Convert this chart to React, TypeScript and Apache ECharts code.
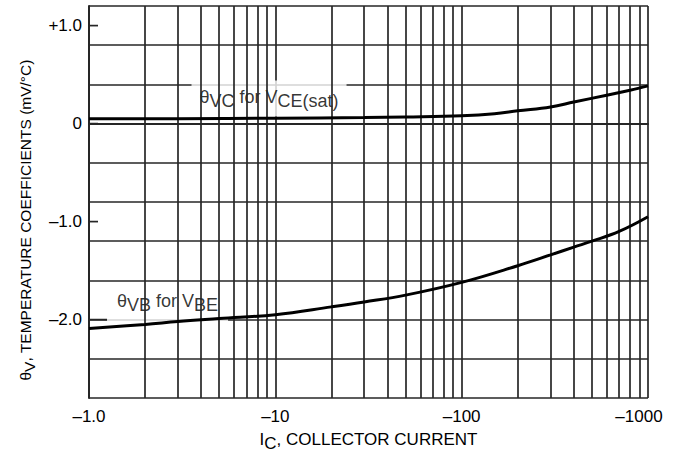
import React, { useEffect, useRef } from "react";
import * as echarts from "echarts";

// ---- data ----
const xTickValues = [1, 10, 100, 1000];
const xTickLabels = ["–1.0", "–10", "–100", "–1000"];
const xMinorGrid = [2, 3, 4, 5, 6, 7, 8, 9, 20, 30, 40, 50, 60, 70, 80, 90, 200, 300, 400, 500, 600, 700, 800, 900];
const yTickValues = [1, 0, -1, -2];
const yTickLabels = ["+1.0", "0", "–1.0", "–2.0"];

const icVC = [1, 3, 10, 30, 50, 100, 150, 200, 300, 400, 600, 800, 1000];
const thetaVC = [0.05, 0.05, 0.055, 0.062, 0.068, 0.08, 0.1, 0.13, 0.17, 0.22, 0.29, 0.34, 0.385];

const icVB = [1, 2, 3, 5, 10, 20, 30, 50, 100, 200, 300, 400, 500, 700, 1000];
const thetaVB = [-2.09, -2.05, -2.02, -1.99, -1.95, -1.87, -1.82, -1.75, -1.62, -1.45, -1.34, -1.26, -1.2, -1.1, -0.95];

const FONT = "'Liberation Sans', Arial, Helvetica, sans-serif";
const INK = "#000000";
const GRID = "#262626";

export default function App() {
  const ref = useRef<HTMLDivElement>(null);

  useEffect(() => {
    if (!ref.current) return;
    const chart = echarts.init(ref.current, undefined, { renderer: "svg" });

    const rich = (size: number, drop: number) => ({
      a: { fontFamily: FONT, fontSize: size, color: INK, verticalAlign: "top", lineHeight: size + drop },
      b: { fontFamily: FONT, fontSize: size, color: INK, verticalAlign: "bottom", lineHeight: size + drop },
    });

    const option: any = {
      animation: false,
      backgroundColor: "#ffffff",
      grid: { left: 89, right: 32, top: 6, bottom: 66, containLabel: false, outerBoundsMode: "none" },
      xAxis: {
        type: "log",
        logBase: 10,
        min: 1,
        max: 1000,
        axisLine: { show: true, lineStyle: { color: GRID, width: 2 } },
        axisTick: { show: false },
        splitLine: { show: true, lineStyle: { color: GRID, width: 1.7 } },
        axisLabel: {
          margin: 10,
          fontFamily: FONT,
          fontSize: 17,
          color: INK,
          rich: { last: { fontFamily: FONT, fontSize: 17, color: INK, padding: [0, 18, 0, 0] } },
          formatter: (v: number) => {
            const i = xTickValues.findIndex((t) => Math.abs(t - v) < 1e-6 * t);
            if (i < 0) return "";
            return i === xTickValues.length - 1 ? "{last|" + xTickLabels[i] + "}" : xTickLabels[i];
          },
        },
        name: "{a|I}{b|C}{a|, COLLECTOR CURRENT}",
        nameLocation: "middle",
        nameGap: 33,
        nameTextStyle: { rich: rich(17, 4) },
      },
      yAxis: [
        {
          type: "value",
          min: -2.8,
          max: 1.2,
          interval: 0.4,
          axisLine: { show: true, lineStyle: { color: GRID, width: 2 } },
          axisTick: { show: false },
          axisLabel: { show: false },
          splitLine: { show: true, lineStyle: { color: GRID, width: 1.7 } },
        },
        {
          type: "value",
          min: -2.8,
          max: 1.2,
          interval: 0.2,
          position: "left",
          axisLine: { show: false },
          axisTick: { show: false },
          splitLine: { show: false },
          axisLabel: {
            margin: 7,
            fontFamily: FONT,
            fontSize: 17,
            color: INK,
            formatter: (v: number) => {
              const i = yTickValues.findIndex((t) => Math.abs(t - v) < 1e-6);
              return i >= 0 ? yTickLabels[i] : "";
            },
          },
          name: "{a|θ}{b|V}{a|, TEMPERATURE COEFFICIENTS (mV/°C)}",
          nameLocation: "middle",
          nameRotate: 90,
          nameGap: 52,
          nameTextStyle: {
            rich: rich(15.5, 4),
            padding: [0, 36, 0, 0],
          },
        },
      ],
      series: [
        {
          type: "line",
          name: "minorgrid",
          data: [],
          z: 1,
          silent: true,
          markLine: {
            silent: true,
            symbol: "none",
            label: { show: false },
            lineStyle: { color: GRID, width: 1.7, type: "solid" },
            data: xMinorGrid.map((v) => ({ xAxis: v })),
          },
        },
        {
          type: "custom",
          name: "yticks",
          z: 2,
          silent: true,
          data: yTickValues.map((v) => [1, v]),
          renderItem: (_params: any, api: any) => {
            const p = api.coord([api.value(0), api.value(1)]);
            const len = api.value(1) === -2 ? 18 : 9;
            return {
              type: "line",
              shape: { x1: p[0], y1: p[1], x2: p[0] + len, y2: p[1] },
              style: { stroke: GRID, lineWidth: 1.7 },
            };
          },
        },
        {
          type: "scatter",
          name: "labels",
          z: 3,
          silent: true,
          symbolSize: 0,
          data: [
            { value: [9.25, 0.255], label: { formatter: "{a|θ}{b|VC}{a| for V}{b|CE(sat)}", padding: [7, 8] } },
            { value: [2.64, -1.83], label: { formatter: "{a|θ}{b|VB}{a| for V}{b|BE}", padding: [7, 10] } },
          ],
          label: {
            show: true,
            position: "inside",
            backgroundColor: "#ffffff",
            rich: rich(18, 4),
          },
        },
        {
          type: "line",
          name: "VC",
          z: 5,
          data: icVC.map((x, i) => [x, thetaVC[i]]),
          smooth: 0.4,
          showSymbol: false,
          lineStyle: { color: "#000", width: 3 },
        },
        {
          type: "line",
          name: "VB",
          z: 5,
          data: icVB.map((x, i) => [x, thetaVB[i]]),
          smooth: 0.4,
          showSymbol: false,
          lineStyle: { color: "#000", width: 3 },
        },
      ],
    };

    chart.setOption(option);
    return () => chart.dispose();
  }, []);

  return (
    <div
      ref={ref}
      style={{ position: "absolute", left: 0, top: 0, width: 680, height: 464, background: "#fff" }}
    />
  );
}
